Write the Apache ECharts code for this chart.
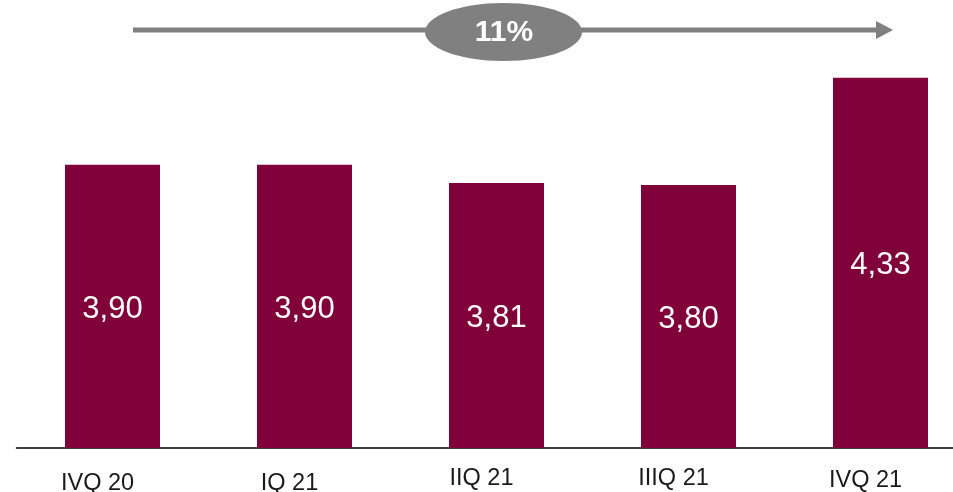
<!DOCTYPE html>
<html>
<head>
<meta charset="utf-8">
<style>
  html, body { margin: 0; padding: 0; background: #ffffff; }
  #chart { width: 953px; height: 492px; }
</style>
<script src="https://cdn.jsdelivr.net/npm/echarts@6/dist/echarts.min.js"></script>
</head>
<body>
<div id="chart"></div>
<script>
// Quarterly values
const quarters = ['IVQ 20', 'IQ 21', 'IIQ 21', 'IIIQ 21', 'IVQ 21'];
const values = [3.90, 3.90, 3.81, 3.80, 4.33];

// Growth from first to last quarter, shown in the badge over the arrow
const growthPct = Math.round((values[values.length - 1] / values[0] - 1) * 100);

const FONT = '"Liberation Sans", Arial, sans-serif';
const BAR = '#80003a';
const GREY = '#808080';

// small vertical nudges for each category label; right padding pulls them a bit left of the bar centre
const labelNudge = [5, 5, 0, 0, 2];
const rich = {};
labelNudge.forEach((p, i) => {
  rich['c' + i] = { fontSize: 23.5, fontFamily: FONT, color: '#1a1a1a', padding: [p, 30, 0, 0] };
});

const chart = echarts.init(document.getElementById('chart'), null, { renderer: 'canvas' });

chart.setOption({
  animation: false,
  backgroundColor: '#ffffff',
  grid: {
    left: 16.5, width: 960, top: 43.4, height: 404.6,
    containLabel: false, outerBoundsMode: 'none'
  },
  xAxis: {
    type: 'category',
    data: quarters,
    axisLine: { show: true, lineStyle: { color: '#000000', width: 1.5 } },
    axisTick: { show: false },
    axisLabel: {
      margin: 19,
      interval: 0,
      formatter: (v, i) => '{c' + i + '|' + v + '}',
      rich: rich
    }
  },
  yAxis: {
    type: 'value',
    min: 2.5,
    max: 4.5,
    show: false,
    splitLine: { show: false }
  },
  series: [{
    type: 'bar',
    data: values,
    barWidth: 95,
    itemStyle: { color: BAR },
    label: {
      show: true,
      position: 'inside',
      offset: [0, 3],
      color: '#ffffff',
      fontSize: 31,
      fontFamily: FONT,
      formatter: p => p.value.toFixed(2).replace('.', ',')
    }
  }],
  graphic: [
    {
      type: 'line',
      shape: { x1: 133, y1: 30, x2: 878, y2: 30 },
      style: { stroke: GREY, lineWidth: 5 }
    },
    {
      type: 'polygon',
      shape: { points: [[876, 21], [893, 30], [876, 39]] },
      style: { fill: GREY }
    },
    {
      type: 'ellipse',
      shape: { cx: 503.5, cy: 32, rx: 78.5, ry: 29 },
      style: { fill: GREY }
    },
    {
      type: 'text',
      x: 504,
      y: 33,
      style: {
        text: growthPct + '%',
        fill: '#ffffff',
        font: 'bold 30px ' + FONT,
        align: 'center',
        verticalAlign: 'middle'
      }
    }
  ]
});
</script>
</body>
</html>
